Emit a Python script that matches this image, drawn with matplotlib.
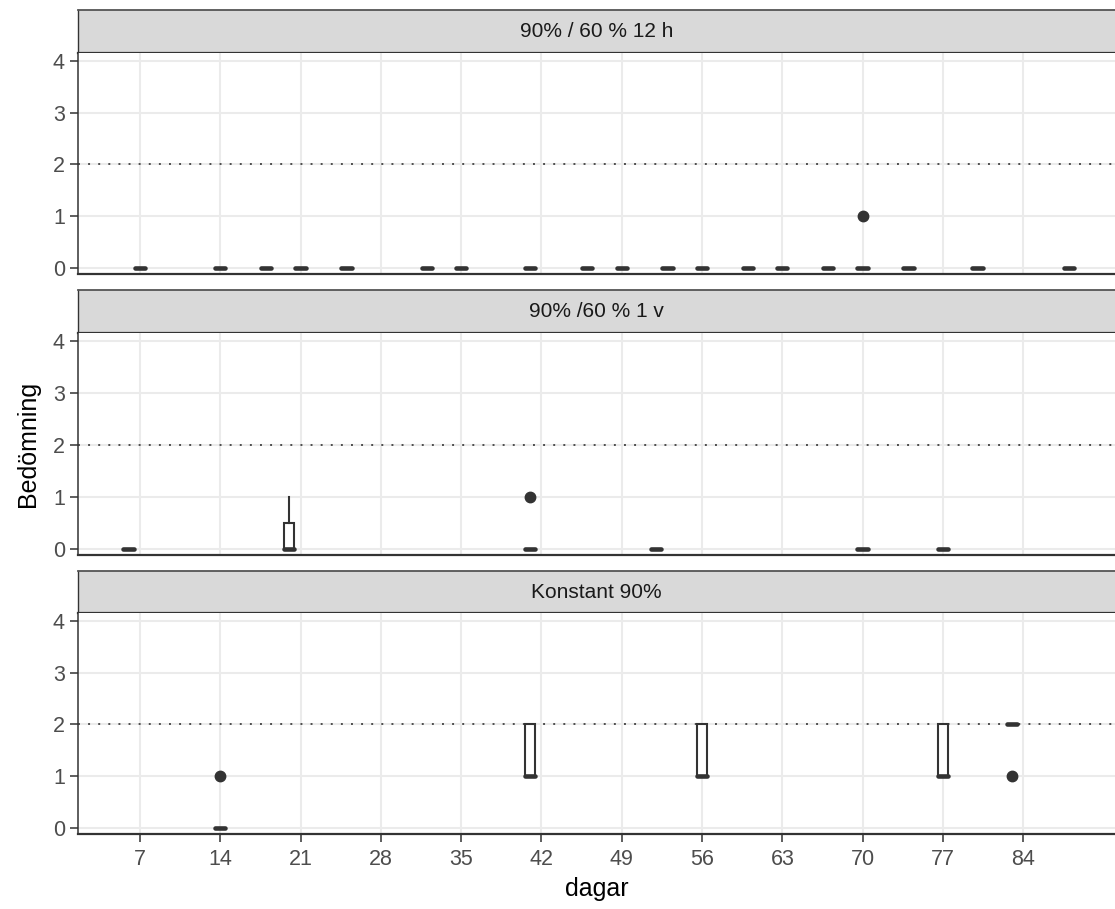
import matplotlib
matplotlib.use("Agg")
import matplotlib.pyplot as plt

plt.rcParams['font.family'] = ['Liberation Sans', 'DejaVu Sans']

# facet titles
panels = ["90% / 60 % 12 h", "90% /60 % 1 v", "Konstant 90%"]

# day -> observed scores, one list per day
days_12h = [7, 14, 18, 21, 25, 32, 35, 41, 46, 49, 53, 56, 60, 63, 67, 70, 74, 80, 88]
vals_12h = [[0, 0, 0]] * 15 + [[0, 0, 0, 0, 0, 1]] + [[0, 0, 0]] * 3

days_1v = [6, 20, 41, 52, 70, 77]
vals_1v = [[0, 0, 0], [0, 0, 1], [0, 0, 0, 0, 0, 1], [0, 0, 0], [0, 0, 0], [0, 0, 0]]

days_konst = [14, 41, 56, 77, 83]
vals_konst = [[0, 0, 0, 0, 0, 1], [1, 1, 1, 2, 2], [1, 1, 1, 2, 2], [1, 1, 1, 2, 2],
              [2, 2, 2, 2, 2, 1]]

all_days = [days_12h, days_1v, days_konst]
all_vals = [vals_12h, vals_1v, vals_konst]

xticks = [7, 14, 21, 28, 35, 42, 49, 56, 63, 70, 77, 84]
yticks = [0, 1, 2, 3, 4]
threshold = 2

W, H = 1115, 909
fig = plt.figure(figsize=(W / 100, H / 100), dpi=100)

dark = '#333333'
left, right = 78, 1115
strips = [(10, 53), (290, 333), (571, 613)]
bodies = [(53, 274), (333, 555), (613, 834)]

def fr(x0, y0, x1, y1):
    return [x0 / W, 1 - y1 / H, (x1 - x0) / W, (y1 - y0) / H]

for i, title in enumerate(panels):
    # strip
    sa = fig.add_axes(fr(left, strips[i][0], right, strips[i][1]))
    sa.set_facecolor('#D9D9D9')
    sa.set_xticks([])
    sa.set_yticks([])
    sa.spines['right'].set_visible(False)
    sa.spines['top'].set_color('#555555')
    sa.spines['top'].set_linewidth(1.3)
    sa.spines['left'].set_color(dark)
    sa.spines['left'].set_linewidth(1.0)
    sa.spines['bottom'].set_color(dark)
    sa.spines['bottom'].set_linewidth(1.6)
    sa.text(0.5, 0.5, title, transform=sa.transAxes, ha='center', va='center',
            fontsize=15, color='#1A1A1A')

    ax = fig.add_axes(fr(left, bodies[i][0], right, bodies[i][1]))
    ax.set_xlim(1.6, 92.0)
    ax.set_ylim(-0.12, 4.155)
    ax.set_xticks(xticks)
    ax.set_yticks(yticks)
    ax.grid(True, color='#EBEBEB', linewidth=1.5)
    ax.set_axisbelow(True)
    for s in ['top', 'right']:
        ax.spines[s].set_visible(False)
    ax.spines['left'].set_color(dark)
    ax.spines['left'].set_linewidth(1.1)
    ax.spines['bottom'].set_color(dark)
    ax.spines['bottom'].set_linewidth(1.6)
    ax.tick_params(axis='y', length=5.5, width=1.1, color=dark, pad=4,
                   labelsize=15.5, labelcolor='#4D4D4D')
    if i < 2:
        ax.tick_params(axis='x', length=0, labelbottom=False)
    else:
        ax.tick_params(axis='x', length=5.5, width=1.1, color=dark, pad=5,
                       labelsize=15.5, labelcolor='#4D4D4D')

    ax.axhline(threshold, color='#4D4D4D', linewidth=1.4, linestyle=(0, (1.0, 4.2)),
               zorder=1)

    ax.boxplot(all_vals[i], positions=all_days[i], widths=0.9, showcaps=False,
               patch_artist=True, manage_ticks=False,
               boxprops=dict(facecolor='white', edgecolor=dark, linewidth=1.5),
               whiskerprops=dict(color=dark, linewidth=1.5),
               medianprops=dict(color=dark, linewidth=3.3, solid_capstyle='round'),
               flierprops=dict(marker='o', markerfacecolor=dark,
                               markeredgecolor=dark, markersize=7.5),
               zorder=3)

    if i == 1:
        ax.set_ylabel("Bedömning", fontsize=18, color='black', labelpad=9)
    if i == 2:
        ax.set_xlabel("dagar", fontsize=18, color='black', labelpad=5)

fig.savefig('out.png', dpi=100)
